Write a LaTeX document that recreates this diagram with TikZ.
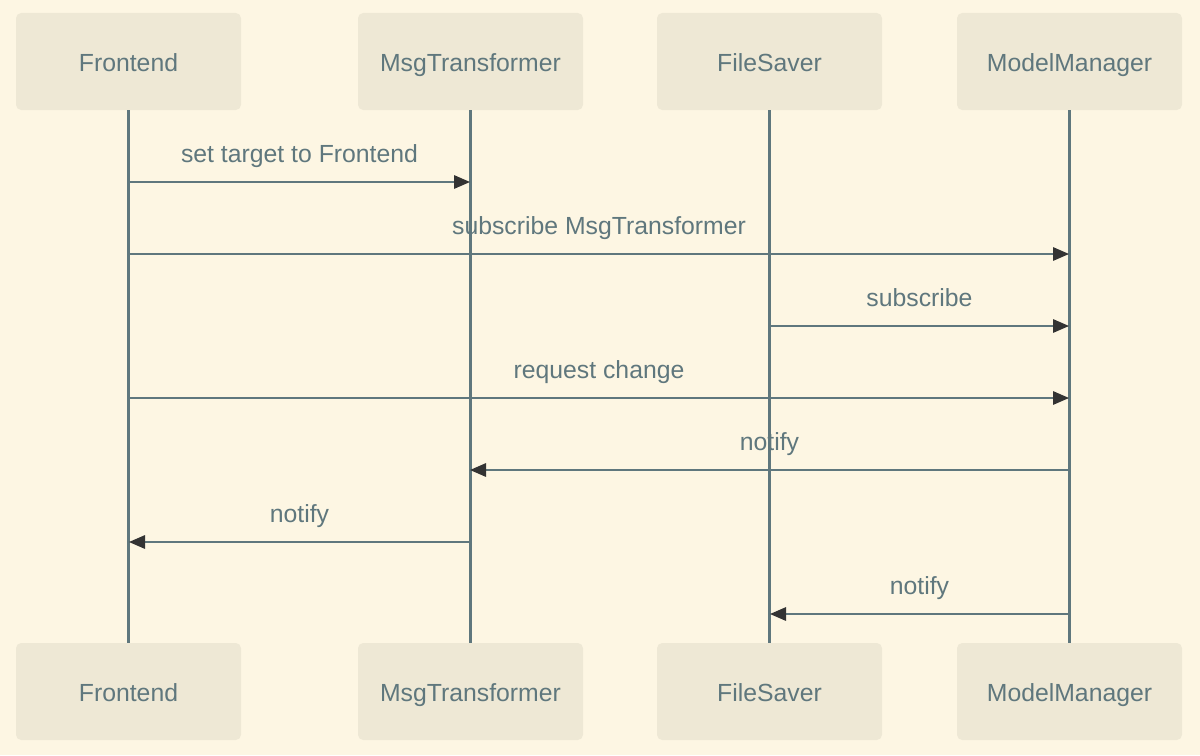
\documentclass[tikz,border=0pt]{standalone}
\usepackage{fontspec}
\setmainfont{Liberation Sans}
\usetikzlibrary{arrows.meta,positioning,calc}
\definecolor{bgcol}{HTML}{FDF6E3}
\definecolor{boxcol}{HTML}{EEE8D5}
\definecolor{inkcol}{HTML}{5F777D}
\definecolor{tipcol}{HTML}{333333}

\begin{document}
\begin{tikzpicture}[font=\fontsize{14.1}{17}\selectfont,
   actor/.style={rectangle,rounded corners=3pt,fill=boxcol,text=inkcol,
     minimum width=4.5cm,minimum height=1.94cm,inner sep=0pt,
     text height=2.35ex,text depth=0.3ex},
   life/.style={draw=inkcol,line width=1.2pt},
   msg/.style={draw=inkcol,line width=0.85pt,
     -{Triangle[length=0.32cm,width=0.27cm,color=tipcol]}},
   lbl/.style={midway,yshift=0.52cm,text=inkcol,inner sep=0pt,
     text height=1.7ex,text depth=0.3ex}]
  \fill[bgcol] (0,0) rectangle (24,-15.1);
  \useasboundingbox (0,0) rectangle (24,-15.1);
  % participants
  \node[actor] (fe) at (2.57,-1.23) {Frontend};
  \node[actor] (mt) at (9.41,-1.23) {MsgTransformer};
  \node[actor] (fs) at (15.39,-1.23) {FileSaver};
  \node[actor] (mm) at (21.39,-1.23) {ModelManager};
  \node[actor] (feB) at (2.57,-13.83) {Frontend};
  \node[actor] (mtB) at (9.41,-13.83) {MsgTransformer};
  \node[actor] (fsB) at (15.39,-13.83) {FileSaver};
  \node[actor] (mmB) at (21.39,-13.83) {ModelManager};
  % lifelines
  \foreach \a in {fe,mt,fs,mm}
    \draw[life] (\a.south) -- (\a B.north);
  % message rows
  \foreach \a/\x in {fe/2.58,mt/9.4,fs/15.4,mm/21.38}
    \foreach \r/\y in {1/-3.64,2/-5.08,3/-6.52,4/-7.96,5/-9.40,6/-10.84,7/-12.28}
      \coordinate (\a\r) at (\x,\y);
  \draw[msg] (fe1) -- node[lbl]{set target to Frontend} (mt1);
  \draw[msg] (fe2) -- node[lbl]{subscribe MsgTransformer} (mm2);
  \draw[msg] (fs3) -- node[lbl]{subscribe} (mm3);
  \draw[msg] (fe4) -- node[lbl]{request change} (mm4);
  \draw[msg] (mm5) -- node[lbl]{notify} (mt5);
  \draw[msg] (mt6) -- node[lbl]{notify} (fe6);
  \draw[msg] (mm7) -- node[lbl]{notify} (fs7);
\end{tikzpicture}
\end{document}
